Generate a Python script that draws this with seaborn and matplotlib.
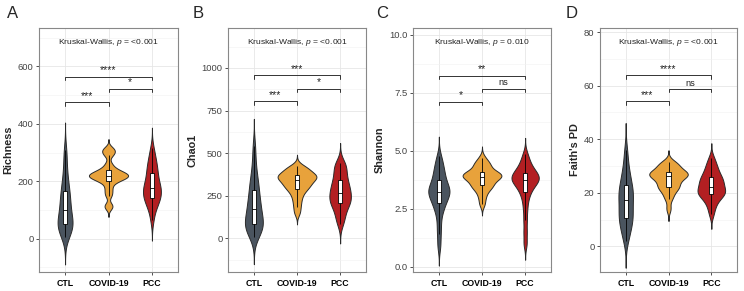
import numpy as np
import pandas as pd
import matplotlib
matplotlib.use("Agg")
import matplotlib.pyplot as plt
from matplotlib.ticker import AutoMinorLocator
import seaborn as sns

# --- DATA ---
groups = ["CTL", "COVID-19", "PCC"]
colors = ["#4a545f", "#e8a23b", "#b31f22"]

richness_ctl = [5, 15, 25, 33, 40, 45, 50, 56, 62, 70, 78, 88, 100, 110, 120, 130, 142, 155, 165, 178, 195, 215, 240, 275, 310]
richness_covid = [108, 118, 150, 165, 180, 195, 202, 206, 210, 213, 216, 218, 220, 222, 225, 228, 231, 235, 240, 248, 262, 290, 300, 308, 315]
richness_pcc = [65, 95, 110, 120, 130, 138, 142, 148, 155, 162, 168, 173, 178, 185, 192, 200, 210, 220, 230, 240, 250, 262, 275, 290, 315]

chao1_ctl = [10, 25, 40, 55, 65, 75, 85, 95, 105, 118, 130, 150, 171, 185, 200, 215, 235, 260, 284, 305, 330, 360, 400, 460, 540]
chao1_covid = [150, 185, 215, 241, 262, 280, 290, 300, 310, 318, 325, 332, 343, 350, 355, 360, 365, 368, 370, 378, 388, 398, 408, 415, 423]
chao1_pcc = [85, 110, 135, 160, 180, 195, 207, 215, 225, 235, 245, 255, 269, 280, 290, 300, 315, 330, 343, 360, 380, 400, 420, 435, 445]

shannon_ctl = [0.9, 1.4, 1.8, 2.2, 2.45, 2.6, 2.73, 2.85, 2.95, 3.05, 3.12, 3.18, 3.24, 3.3, 3.36, 3.43, 3.52, 3.62, 3.74, 3.88, 4.0, 4.15, 4.3, 4.5, 4.75]
shannon_covid = [2.69, 2.95, 3.15, 3.3, 3.4, 3.47, 3.51, 3.6, 3.68, 3.74, 3.79, 3.84, 3.88, 3.91, 3.94, 3.97, 4.0, 4.04, 4.08, 4.15, 4.25, 4.35, 4.45, 4.5, 4.7]
shannon_pcc = [1.0, 1.5, 2.0, 2.45, 2.8, 3.05, 3.22, 3.35, 3.45, 3.55, 3.62, 3.68, 3.73, 3.78, 3.83, 3.87, 3.92, 3.98, 4.05, 4.12, 4.2, 4.3, 4.45, 4.6, 4.85]

faith_ctl = [2, 4, 6, 7.5, 8.5, 9.5, 10.4, 11.5, 12.5, 13.5, 14.5, 15.5, 17.3, 18, 19, 19.8, 20.5, 21.5, 22.8, 24, 25.5, 27, 29, 32, 36]
faith_covid = [14, 17.6, 19, 20.5, 21.5, 22, 22.3, 23, 24, 24.6, 25.2, 25.7, 26.2, 26.5, 26.8, 27, 27.2, 27.5, 27.7, 28.2, 29, 29.8, 30.5, 31, 31.3]
faith_pcc = [12, 14.5, 16, 17.3, 18.2, 18.9, 19.4, 19.8, 20.2, 20.6, 21.1, 21.7, 22.3, 23, 23.6, 24.2, 24.7, 25.3, 25.9, 26.7, 27.6, 28.6, 29.8, 31, 33]

panel_letters = ["A", "B", "C", "D"]
metric_names = ["Richness", "Chao1", "Shannon", "Faith's PD"]
kw_pvalues = ["<0.001", "<0.001", "0.010", "<0.001"]

# pairwise comparisons: (group i, group j), bracket height, label
pairs = [(0, 1), (1, 2), (0, 2)]
sig_heights = [[475, 522, 564], [805, 877, 957], [7.1, 7.67, 8.24], [54.1, 58.7, 63.8]]
sig_labels = [["***", "*", "****"], ["***", "*", "***"], ["*", "ns", "**"], ["***", "ns", "****"]]

y_limits = [(-116, 734), (-197, 1234), (-0.23, 10.29), (-9.6, 81.5)]
y_ticks = [[0, 200, 400, 600], [0, 250, 500, 750, 1000], [0, 2.5, 5, 7.5, 10], [0, 20, 40, 60, 80]]
y_ticklabels = [["0", "200", "400", "600"], ["0", "250", "500", "750", "1000"],
                ["0.0", "2.5", "5.0", "7.5", "10.0"], ["0", "20", "40", "60", "80"]]

panel_data = [
    [richness_ctl, richness_covid, richness_pcc],
    [chao1_ctl, chao1_covid, chao1_pcc],
    [shannon_ctl, shannon_covid, shannon_pcc],
    [faith_ctl, faith_covid, faith_pcc],
]


# R's bw.nrd0 rule, so the violins look like ggplot's
def nrd0(kde):
    x = kde.dataset[0]
    sd = np.std(x, ddof=1)
    q75, q25 = np.percentile(x, [75, 25])
    lo = min(sd, (q75 - q25) / 1.34)
    return 0.9 * lo * len(x) ** -0.2 / sd


# --- STYLE ---
sns.set_style("white")
plt.rcParams["font.family"] = ["Liberation Sans", "DejaVu Sans"]
plt.rcParams["mathtext.fontset"] = "custom"
plt.rcParams["mathtext.it"] = "Liberation Sans:italic"
plt.rcParams["mathtext.rm"] = "Liberation Sans"

fig = plt.figure(figsize=(7.44, 2.91), dpi=100)
lefts = [39, 228, 413, 600]
widths = [139, 138, 138, 137]
letter_x = [7, 193, 376, 566]

for k in range(4):
    ax = fig.add_axes([lefts[k] / 744, 19 / 291, widths[k] / 744, 244 / 291])

    df = pd.DataFrame({
        "group": np.repeat(groups, [len(v) for v in panel_data[k]]),
        "value": np.concatenate(panel_data[k]),
    })

    sns.violinplot(data=df, x="group", y="value", hue="group", order=groups, hue_order=groups,
                   palette=colors, density_norm="area", common_norm=True, cut=3,
                   bw_method=nrd0, bw_adjust=0.8, width=0.9, inner=None,
                   linewidth=0.7, linecolor="#2a2a2a", saturation=1, legend=False, ax=ax)
    sns.boxplot(data=df, x="group", y="value", order=groups, width=0.1, showfliers=False,
                showcaps=False, color="white", linecolor="black", linewidth=0.6,
                saturation=1, ax=ax)

    # significance brackets
    ymin, ymax = y_limits[k]
    tip = 0.014 * (ymax - ymin)
    for (i, j), h, lab in zip(pairs, sig_heights[k], sig_labels[k]):
        ax.plot([i, i, j, j], [h - tip, h, h, h - tip], color="#333333", lw=0.7)
        ax.text((i + j) / 2, h + 0.006 * (ymax - ymin), lab, ha="center", va="bottom",
                fontsize=6.6 if lab == "ns" else 7.5, color="#222222")

    ax.text(1, 0.94, rf"Kruskal-Wallis, $\it{{p}}$ = {kw_pvalues[k]}", ha="center", va="center",
            fontsize=6.1, color="#222222", transform=ax.get_xaxis_transform())

    ax.set_xlim(-0.6, 2.6)
    ax.set_ylim(ymin, ymax)
    ax.set_yticks(y_ticks[k])
    ax.set_yticklabels(y_ticklabels[k])
    ax.yaxis.set_minor_locator(AutoMinorLocator(2))
    ax.set_axisbelow(True)
    ax.grid(True, which="major", color="#e6e6e6", lw=0.6)
    ax.grid(True, which="minor", axis="y", color="#f2f2f2", lw=0.4)

    ax.set_xlabel("")
    ax.set_ylabel(metric_names[k], fontsize=7.8, fontweight="bold", labelpad=3)
    ax.tick_params(axis="both", which="major", length=2.5, width=0.6, color="#333333",
                   direction="out", left=True, bottom=True)
    ax.tick_params(axis="y", labelsize=6.8, labelcolor="#444444", pad=1.5)
    ax.tick_params(axis="x", labelsize=6.3, labelcolor="black", pad=2.5)
    for lab in ax.get_xticklabels():
        lab.set_fontweight("bold")
    for sp in ax.spines.values():
        sp.set_color("#888888")
        sp.set_linewidth(0.8)

    fig.text(letter_x[k] / 744, 1 - 13 / 291, panel_letters[k], fontsize=12, va="center", ha="left")

fig.savefig("out.png", dpi=100)
